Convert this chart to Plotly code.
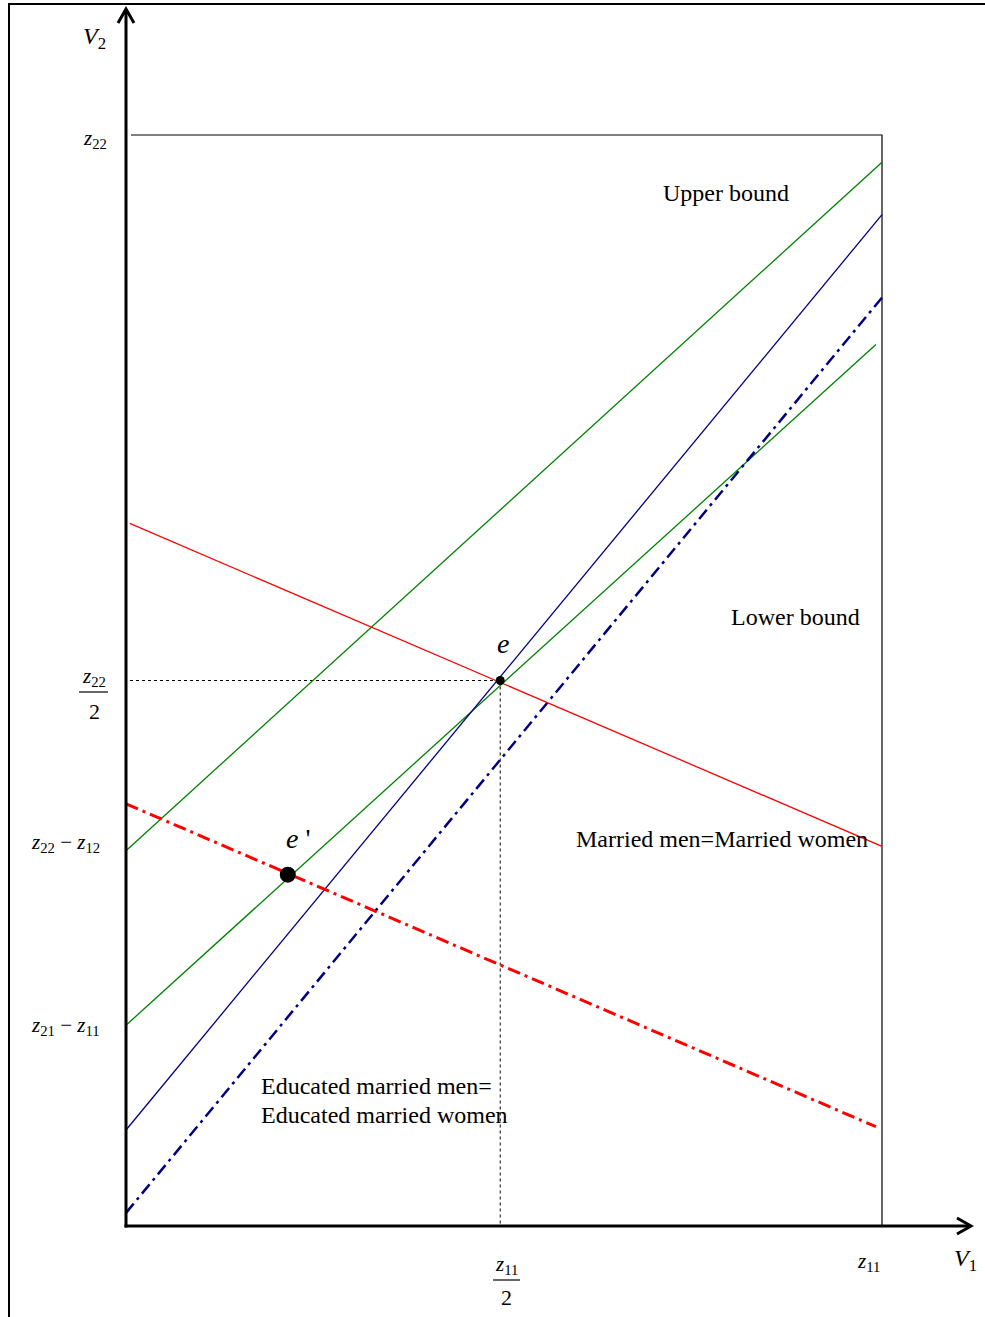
import plotly.graph_objects as go

# ---------------- data (units: z11 = 1 on V1, z22 = 1 on V2) ----------------
z11 = 1.0
z22 = 1.0

green_upper_x = [0.0, 1.0]
green_upper_y = [0.344, 0.975]
green_lower_x = [0.0, 0.992]
green_lower_y = [0.184, 0.808]
blue_solid_x = [0.0, 1.0]
blue_solid_y = [0.088, 0.927]
blue_dashdot_x = [0.0, 1.0]
blue_dashdot_y = [0.012, 0.851]
red_solid_x = [0.005, 1.0]
red_solid_y = [0.644, 0.348]
red_dashdot_x = [0.0, 0.992]
red_dashdot_y = [0.387, 0.091]

e_point = (0.495, 0.5)
e_prime_point = (0.214, 0.322)

ytick_vals = [1.0, 0.355, 0.187]
ytick_text = ["<i>z</i><sub>22</sub>", "<i>z</i><sub>22</sub> − <i>z</i><sub>12</sub>",
              "<i>z</i><sub>21</sub> − <i>z</i><sub>11</sub>"]

# ---------------- pixel helpers for decoration placement ----------------
W, H = 985, 1317
OX, OY = 126, 1226          # origin pixel
SX, SY = 756, 1091          # pixels per unit


def X(px):
    return (px - OX) / SX


def Y(py):
    return (OY - py) / SY


FONT = "Liberation Serif, Times New Roman, serif"

fig = go.Figure()


def line(x, y, color, width, dash="solid"):
    fig.add_trace(go.Scatter(x=x, y=y, mode="lines",
                             line=dict(color=color, width=width, dash=dash),
                             hoverinfo="skip", showlegend=False, cliponaxis=False))


# bounding box (z11, z22)
line([X(131), z11, z11], [z22, z22, 0], "black", 1.2)
# dotted guide lines through e
line([X(130), e_point[0]], [e_point[1], e_point[1]], "black", 1, "dot")
line([e_point[0], e_point[0]], [e_point[1], 0], "black", 1, "dot")

line(green_upper_x, green_upper_y, "#008000", 1.3)
line(green_lower_x, green_lower_y, "#008000", 1.3)
line(blue_solid_x, blue_solid_y, "#000080", 1.3)
line(blue_dashdot_x, blue_dashdot_y, "#000080", 2.5, "12px,5px,3px,5px")
line(red_solid_x, red_solid_y, "#ff0000", 1.3)
line(red_dashdot_x, red_dashdot_y, "#ff0000", 3, "13px,5px,3px,5px")

fig.add_trace(go.Scatter(x=[e_point[0]], y=[e_point[1]], mode="markers",
                         marker=dict(color="black", size=9), hoverinfo="skip",
                         showlegend=False, cliponaxis=False))
fig.add_trace(go.Scatter(x=[e_prime_point[0]], y=[e_prime_point[1]], mode="markers",
                         marker=dict(color="black", size=16), hoverinfo="skip",
                         showlegend=False, cliponaxis=False))

shapes = []
# outer frame (left and top)
shapes.append(dict(type="line", x0=X(9), x1=X(9), y0=Y(4), y1=Y(1320),
                   line=dict(color="black", width=2)))
shapes.append(dict(type="line", x0=X(8), x1=X(990), y0=Y(4), y1=Y(4),
                   line=dict(color="black", width=2)))
# axes
shapes.append(dict(type="line", x0=0, x1=0, y0=Y(1227.5), y1=Y(9),
                   line=dict(color="black", width=3)))
shapes.append(dict(type="line", x0=X(124.5), x1=X(971), y0=0, y1=0,
                   line=dict(color="black", width=3)))
# arrow heads
shapes.append(dict(type="path",
                   path=f"M {X(118)},{Y(23)} L 0,{Y(9)} L {X(134)},{Y(23)}",
                   line=dict(color="black", width=3)))
shapes.append(dict(type="path",
                   path=f"M {X(957)},{Y(1218)} L {X(971)},0 L {X(957)},{Y(1234)}",
                   line=dict(color="black", width=3)))
# fraction bars
shapes.append(dict(type="line", x0=X(79), x1=X(108), y0=Y(692), y1=Y(692),
                   line=dict(color="black", width=1.2)))
shapes.append(dict(type="line", x0=X(493), x1=X(520), y0=Y(1280), y1=Y(1280),
                   line=dict(color="black", width=1.2)))

ann = []


def text(x, y, s, size=22, xanchor="center"):
    ann.append(dict(x=x, y=y, text=s, showarrow=False, xanchor=xanchor,
                    yanchor="middle", font=dict(family=FONT, size=size, color="black")))


# axis titles
text(X(94), Y(38), "<i>V</i><sub>2</sub>", 24)
text(X(965), Y(1260), "<i>V</i><sub>1</sub>", 24)
# y ticks
ytick_px = [95, 65, 65]
for v, s, px in zip(ytick_vals, ytick_text, ytick_px):
    text(X(px), v - 0.004, s, 21)
text(X(94), Y(677), "<i>z</i><sub>22</sub>", 21)
text(X(94), Y(711), "2", 22)
# x ticks
text(z11 - 0.018, Y(1262), "<i>z</i><sub>11</sub>", 21)
text(X(506), Y(1265), "<i>z</i><sub>11</sub>", 21)
text(X(506), Y(1297), "2", 22)
# points
text(X(503), Y(643), "<i>e</i>", 28)
text(X(298), Y(838), "<i>e</i> '", 28)
# region labels
text(X(726), Y(193), "Upper bound", 24)
text(X(795), Y(617), "Lower bound", 24)
text(X(722), Y(839), "Married men=Married women", 24)
text(X(259), Y(1086), "Educated married men=", 24, "left")
text(X(259), Y(1115), "Educated married women", 24, "left")

fig.update_layout(
    width=W, height=H,
    margin=dict(l=0, r=0, t=0, b=0),
    paper_bgcolor="white", plot_bgcolor="white",
    xaxis=dict(range=[X(0), X(W)], visible=False, fixedrange=True),
    yaxis=dict(range=[Y(H), Y(0)], visible=False, fixedrange=True),
    shapes=shapes, annotations=ann, showlegend=False,
)

fig.write_html("out.html")
